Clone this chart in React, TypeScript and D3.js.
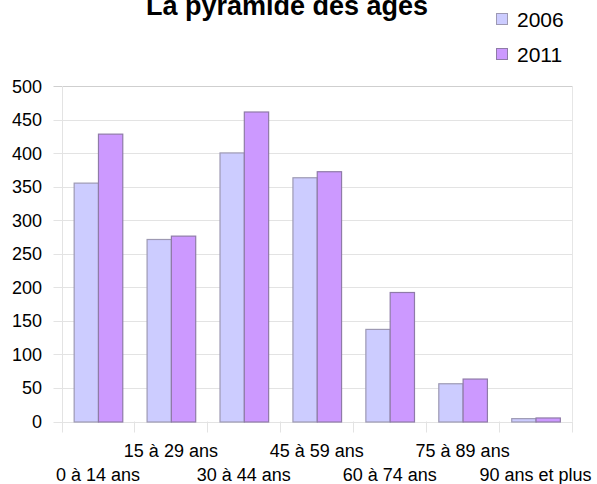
import { useEffect, useRef } from "react";
import * as d3 from "d3";

const categories = [
  "0 à 14 ans",
  "15 à 29 ans",
  "30 à 44 ans",
  "45 à 59 ans",
  "60 à 74 ans",
  "75 à 89 ans",
  "90 ans et plus",
];
const series = ["2006", "2011"];
const values2006 = [356, 272, 401, 364, 138, 57, 5];
const values2011 = [429, 277, 462, 373, 193, 64, 6];
const yTicks = [0, 50, 100, 150, 200, 250, 300, 350, 400, 450, 500];
const colors = ["#ccccff", "#cc99ff"];
const strokes = ["#9d99b3", "#8f7ba8"];

const App = () => {
  const svgRef = useRef<SVGSVGElement>(null);

  useEffect(() => {
    if (!svgRef.current) return;

    // the chart fills the window, so drop the default body margin
    document.body.style.margin = "0";
    d3.select(svgRef.current).selectAll("*").remove();

    const width = 597;
    const height = 484;
    const margin = { top: 86, right: 25, bottom: 62.5, left: 61.5 };

    const svg = d3.select(svgRef.current)
      .attr("width", width)
      .attr("height", height)
      .style("display", "block")
      .style("font-family", "'Liberation Sans', Arial, sans-serif");

    const x = d3.scaleBand()
      .domain(categories)
      .range([margin.left, width - margin.right])
      .paddingInner(0)
      .paddingOuter(0);

    const inner = d3.scaleBand()
      .domain(series)
      .range([0, x.bandwidth()])
      .paddingOuter(0.5)
      .paddingInner(0);

    const y = d3.scaleLinear()
      .domain([0, 500])
      .range([height - margin.bottom, margin.top]);

    // grid
    svg.append("g")
      .selectAll("line")
      .data(yTicks)
      .join("line")
      .attr("x1", margin.left - 8)
      .attr("x2", width - margin.right)
      .attr("y1", d => Math.round(y(d)) + 0.5)
      .attr("y2", d => Math.round(y(d)) + 0.5)
      .attr("stroke", d => (d === 500 ? "#cfcfcf" : "#e3e3e3"))
      .attr("stroke-width", 1);

    // right border
    svg.append("line")
      .attr("x1", width - margin.right + 0.5)
      .attr("x2", width - margin.right + 0.5)
      .attr("y1", margin.top)
      .attr("y2", y(0))
      .attr("stroke", "#e6e6e6");

    // category ticks
    svg.append("g")
      .selectAll("line")
      .data(d3.range(categories.length + 1))
      .join("line")
      .attr("x1", i => Math.round(margin.left + i * x.step()) + 0.5)
      .attr("x2", i => Math.round(margin.left + i * x.step()) + 0.5)
      .attr("y1", i => (i === 0 ? margin.top : y(0)))
      .attr("y2", y(0) + 11)
      .attr("stroke", "#e3e3e3");

    // bars
    const rows = categories.map((c, i) => ({ c, v: [values2006[i], values2011[i]] }));
    const groups = svg.append("g")
      .selectAll("g")
      .data(rows)
      .join("g")
      .attr("transform", d => `translate(${x(d.c)},0)`);

    groups.selectAll("rect")
      .data(d => d.v.map((v, k) => ({ v, k })))
      .join("rect")
      .attr("x", d => inner(series[d.k])! + 0.5)
      .attr("y", d => y(d.v) + 0.5)
      .attr("width", inner.bandwidth())
      .attr("height", d => y(0) - y(d.v))
      .attr("fill", d => colors[d.k])
      .attr("stroke", d => strokes[d.k])
      .attr("stroke-width", 1.2);

    // y labels
    svg.append("g")
      .selectAll("text")
      .data(yTicks)
      .join("text")
      .attr("x", 42)
      .attr("y", d => y(d) + 6.5)
      .attr("text-anchor", "end")
      .style("font-size", "18px")
      .style("fill", "#000")
      .text(d => d);

    // x labels, staggered
    svg.append("g")
      .selectAll("text")
      .data(categories)
      .join("text")
      .attr("x", d => x(d)! + x.bandwidth() / 2)
      .attr("y", (_, i) => (i % 2 === 1 ? 457 : 481))
      .attr("text-anchor", "middle")
      .style("font-size", "18px")
      .style("fill", "#000")
      .text(d => d);

    // title
    svg.append("text")
      .attr("x", 287)
      .attr("y", 15)
      .attr("text-anchor", "middle")
      .style("font-size", "27px")
      .style("font-weight", "bold")
      .style("fill", "#000")
      .text("La pyramide des ages");

    // legend
    const legend = svg.append("g")
      .selectAll("g")
      .data(series)
      .join("g")
      .attr("transform", (_, i) => `translate(496,${13 + i * 35})`);

    legend.append("rect")
      .attr("x", 0.5)
      .attr("y", 0.5)
      .attr("width", 11)
      .attr("height", 11)
      .attr("fill", (_, i) => colors[i])
      .attr("stroke", (_, i) => strokes[i]);

    legend.append("text")
      .attr("x", 21)
      .attr("y", 13.5)
      .style("font-size", "21px")
      .style("fill", "#000")
      .text(d => d);
  }, []);

  return <svg ref={svgRef}></svg>;
};

export default App;
